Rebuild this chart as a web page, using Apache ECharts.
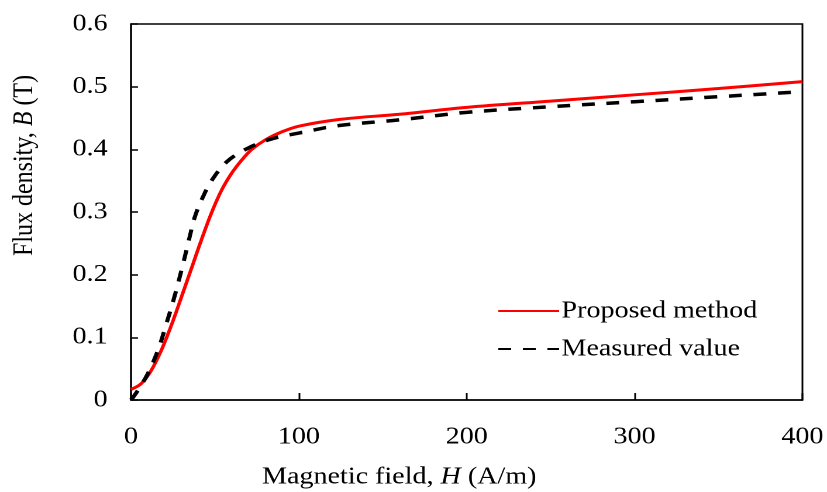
<!DOCTYPE html>
<html>
<head>
<meta charset="utf-8">
<script src="https://cdn.jsdelivr.net/npm/echarts@6/dist/echarts.min.js"></script>
<style>
  html, body { margin: 0; padding: 0; background: #fff; overflow: hidden; }
  /* the figure is laid out on a narrower canvas and widened to 827px */
  #chart { width: 707px; height: 492px; transform: scaleX(1.1697); transform-origin: 0 0; }
</style>
</head>
<body>
<div id="chart"></div>
<script>
// B-H magnetisation curves: model output vs. measurement
const proposedH = [0, 6, 12, 18, 24, 30, 36, 42, 48, 54, 60, 66, 72, 80, 90, 100, 125, 160, 200, 250, 300, 350, 400];
const proposedB = [0.017, 0.026, 0.047, 0.079, 0.119, 0.164, 0.210, 0.256, 0.299, 0.335, 0.362, 0.383, 0.400, 0.415, 0.428, 0.437, 0.448, 0.456, 0.467, 0.477, 0.487, 0.497, 0.508];

const measuredH = [0, 4, 10, 16, 21, 26, 31, 35, 38, 42, 48, 57, 69, 83, 100, 124, 160, 200, 250, 300, 350, 400];
const measuredB = [0, 0.015, 0.042, 0.079, 0.121, 0.166, 0.217, 0.261, 0.292, 0.319, 0.350, 0.380, 0.401, 0.416, 0.426, 0.438, 0.447, 0.459, 0.468, 0.476, 0.484, 0.492];

const seriesNames = ['Proposed method', 'Measured value'];
const xTicks = [0, 100, 200, 300, 400];
const yTicks = [0, 0.1, 0.2, 0.3, 0.4, 0.5, 0.6];

const FONT = '"Liberation Serif", "Times New Roman", serif';

function pairs(xs, ys) {
  return xs.map((x, i) => [x, ys[i]]);
}

const chart = echarts.init(document.getElementById('chart'), null, { renderer: 'canvas', devicePixelRatio: 2 });

chart.setOption({
  animation: false,
  backgroundColor: '#fff',
  textStyle: { fontFamily: FONT },
  grid: {
    left: 112, right: 20.5, top: 24, bottom: 92,
    show: true, borderColor: '#000', borderWidth: 1.5,
    containLabel: false
  },
  xAxis: {
    type: 'value',
    min: xTicks[0], max: xTicks[xTicks.length - 1], interval: 100,
    axisLine: { show: true, onZero: false, lineStyle: { color: '#000', width: 1.5 } },
    axisTick: { show: true, inside: true, length: 7, lineStyle: { color: '#000', width: 1.5 } },
    axisLabel: { color: '#000', fontSize: 24, fontFamily: FONT, margin: 25 },
    splitLine: { show: false }
  },
  yAxis: {
    type: 'value',
    min: yTicks[0], max: yTicks[yTicks.length - 1], interval: 0.1,
    axisLine: { show: true, onZero: false, lineStyle: { color: '#000', width: 1.5 } },
    axisTick: { show: true, inside: true, length: 6, lineStyle: { color: '#000', width: 1.5 } },
    axisLabel: {
      color: '#000', fontSize: 24, fontFamily: FONT, margin: 20,
      formatter: v => (v === 0 ? '0' : v.toFixed(1))
    },
    splitLine: { show: false }
  },
  legend: {
    orient: 'vertical',
    left: 420, top: 294,
    itemWidth: 52, itemHeight: 14,
    itemGap: 14,
    itemStyle: { opacity: 0 },
    textStyle: { color: '#000', fontSize: 24, fontFamily: FONT, padding: [0, 0, 0, -3] },
    data: seriesNames
  },
  graphic: [
    {
      type: 'text', left: 224, top: 465,
      style: {
        text: '{n|Magnetic field, }{i|H}{n| (A/m)}',
        rich: {
          n: { fontSize: 24, fontFamily: FONT, fill: '#000' },
          i: { fontSize: 24, fontFamily: FONT, fontStyle: 'italic', fill: '#000' }
        }
      }
    },
    {
      type: 'text', x: 9, y: 256, rotation: Math.PI / 2,
      style: {
        text: '{n|Flux density, }{i|B}{n| (T)}',
        rich: {
          n: { fontSize: 24, fontFamily: FONT, fill: '#000' },
          i: { fontSize: 24, fontFamily: FONT, fontStyle: 'italic', fill: '#000' }
        }
      }
    }
  ],
  series: [
    {
      name: seriesNames[0],
      type: 'line',
      data: pairs(proposedH, proposedB),
      smooth: 0.35,
      showSymbol: false,
      symbol: 'none',
      lineStyle: { color: '#ff0000', width: 3 },
      itemStyle: { color: '#ff0000' },
      z: 3
    },
    {
      name: seriesNames[1],
      type: 'line',
      data: pairs(measuredH, measuredB),
      smooth: 0.35,
      showSymbol: false,
      symbol: 'none',
      lineStyle: { color: '#000', width: 3.5, type: [11, 10] },
      itemStyle: { color: '#000' },
      z: 4
    }
  ]
});
</script>
</body>
</html>
